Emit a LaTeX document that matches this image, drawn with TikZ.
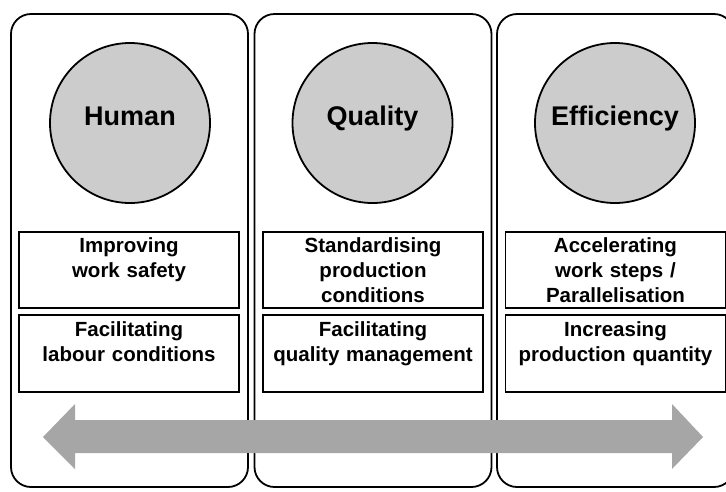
\documentclass[tikz,border=0pt]{standalone}
\usepackage{fontspec}
\setmainfont{Liberation Sans}
\definecolor{circfill}{HTML}{CCCCCC}
\definecolor{arrowgray}{HTML}{A6A6A6}
\begin{document}
\begin{tikzpicture}[x=1pt,y=-1pt,
  panel/.style={draw=black, line width=1.8pt, rounded corners=20pt, minimum width=237pt, minimum height=473pt, inner sep=0pt},
  pillar/.style={circle, draw=black, line width=1.8pt, fill=circfill, minimum size=160pt, inner sep=0pt,
    font=\bfseries\fontsize{27}{30}\selectfont, text height=0.72em, text depth=0.2em},
  itembox/.style={draw=black, line width=1.8pt, minimum width=220pt, inner sep=0pt},
  itemtext/.style={anchor=base, text width=220pt, align=center, inner sep=0pt,
    font=\bfseries\fontsize{20.5}{25}\selectfont}
]
\clip (0,0) rectangle (726,491);
\fill[white] (0,0) rectangle (726,491);
% panels
\node[panel] (p1) at (129.5,250.5) {};
\node[panel] (p2) at (373,250.5) {};
\node[panel] (p3) at (615.5,250.5) {};
% circles
\node[pillar] (c1) at (130,123) {Human};
\node[pillar] (c2) at (372.5,123) {Quality};
\node[pillar] (c3) at (615,123) {Efficiency};
% boxes
\node[itembox, minimum height=76pt] (b11) at (129,270) {};
\node[itembox, minimum height=77pt] (b12) at (129,353.5) {};
\node[itembox, minimum height=76pt] (b21) at (373,270) {};
\node[itembox, minimum height=77pt] (b22) at (373,353.5) {};
\node[itembox, minimum height=76pt] (b31) at (615.5,270) {};
\node[itembox, minimum height=77pt] (b32) at (615.5,353.5) {};
% texts
\node[itemtext] (t11) at (129,252) {Improving\\work safety};
\node[itemtext] (t12) at (129,336) {Facilitating\\labour conditions};
\node[itemtext] (t21) at (373,252) {Standardising\\production\\conditions};
\node[itemtext] (t22) at (373,336) {Facilitating\\quality management};
\node[itemtext] (t31) at (615.5,252) {Accelerating\\work steps /\\Parallelisation};
\node[itemtext] (t32) at (615.5,336) {Increasing\\production quantity};
% double arrow
\fill[arrowgray] (43,437) -- (75,404) -- (75,420) -- (672,420) -- (672,404) -- (703,437)
  -- (672,469) -- (672,453) -- (75,453) -- (75,469) -- cycle;
\end{tikzpicture}
\end{document}
